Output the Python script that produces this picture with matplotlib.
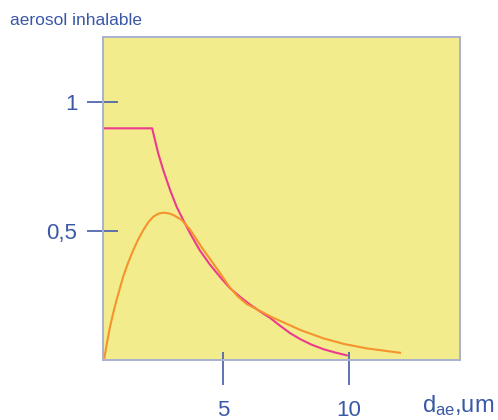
import numpy as np
import matplotlib.pyplot as plt

plt.rcParams['font.family'] = ['Liberation Sans', 'DejaVu Sans']
plt.rcParams['mathtext.fontset'] = 'custom'
plt.rcParams['mathtext.rm'] = 'Liberation Sans'

# inhalable fraction convention (step, then decay)
conv_x = [0.24, 2.19, 2.30, 2.43, 2.63, 2.90, 3.16, 3.42, 3.70, 4.08, 4.48, 4.9,
          5.28, 5.7, 6.07, 6.47, 6.87, 7.26, 7.66, 8.06, 8.5, 8.98, 9.45, 9.91]
conv_y = [0.898, 0.898, 0.853, 0.801, 0.736, 0.659, 0.594, 0.543, 0.49, 0.425, 0.37,
          0.32, 0.278, 0.243, 0.215, 0.188, 0.163, 0.133, 0.104, 0.081, 0.06, 0.042,
          0.029, 0.018]

# measured deposition curve
dep_x = [0.28, 0.4, 0.52, 0.65, 0.78, 1.04, 1.24, 1.44, 1.64, 1.84, 2.03, 2.23, 2.43,
         2.63, 2.83, 3.03, 3.36, 3.69, 4.2, 4.55, 4.88, 5.28, 5.6, 5.94, 6.47, 6.9,
         7.26, 8.1, 8.98, 9.8, 10.7, 12.02]
dep_y = [0.0, 0.068, 0.129, 0.184, 0.233, 0.323, 0.378, 0.426, 0.468, 0.504, 0.533,
         0.555, 0.567, 0.571, 0.569, 0.562, 0.543, 0.506, 0.43, 0.383, 0.337, 0.28,
         0.245, 0.217, 0.19, 0.168, 0.152, 0.115, 0.084, 0.062, 0.045, 0.028]

xticks = [5, 10]
xlabels = ['5', '10']
yticks = [0.5, 1.0]
ylabels = ['0,5', '1']

blue = '#3a58a8'
tick_blue = '#5268ad'

fig = plt.figure(figsize=(4.98, 4.20), dpi=100)
ax = fig.add_axes([103 / 498, 60 / 420, 357 / 498, 323 / 420])
ax.set_facecolor('#f2ec8c')

ax.plot(conv_x, conv_y, color='#ec3a8c', lw=1.5, solid_joinstyle='round')
ax.plot(dep_x, dep_y, color='#f5932c', lw=1.5, solid_joinstyle='round')

ax.set_xlim(0.24, 14.4)
ax.set_ylim(0, 1.252)

for s in ax.spines.values():
    s.set_color('#aab1cf')
    s.set_linewidth(1.4)

ax.set_xticks(xticks)
ax.set_xticklabels(xlabels)
ax.set_yticks(yticks)
ax.set_yticklabels(ylabels)
ax.set_xticks(xticks, minor=True)
ax.set_yticks(yticks, minor=True)
ax.xaxis.remove_overlapping_locs = False
ax.yaxis.remove_overlapping_locs = False

# tick marks cross the frame: long part outside, short part inside
ax.tick_params(axis='x', which='major', direction='out', length=18, width=1.3,
               color=tick_blue, labelcolor=blue, labelsize=16, pad=10.5)
ax.tick_params(axis='x', which='minor', direction='in', length=5.8, width=1.3,
               color=tick_blue)
ax.tick_params(axis='y', which='major', direction='out', length=11.5, width=1.3,
               color=tick_blue, labelcolor=blue, labelsize=16, pad=7)
ax.tick_params(axis='y', which='minor', direction='in', length=10.8, width=1.3,
               color=tick_blue)

fig.text(10 / 498, 1 - 25 / 420, 'aerosol inhalable', color=blue, fontsize=12.5,
         ha='left', va='baseline')
fig.text(422 / 498, 1 - 412 / 420, r'$\mathrm{d_{ae}}$,um', color=blue, fontsize=17,
         ha='left', va='baseline')

fig.savefig('out.png', dpi=100)
